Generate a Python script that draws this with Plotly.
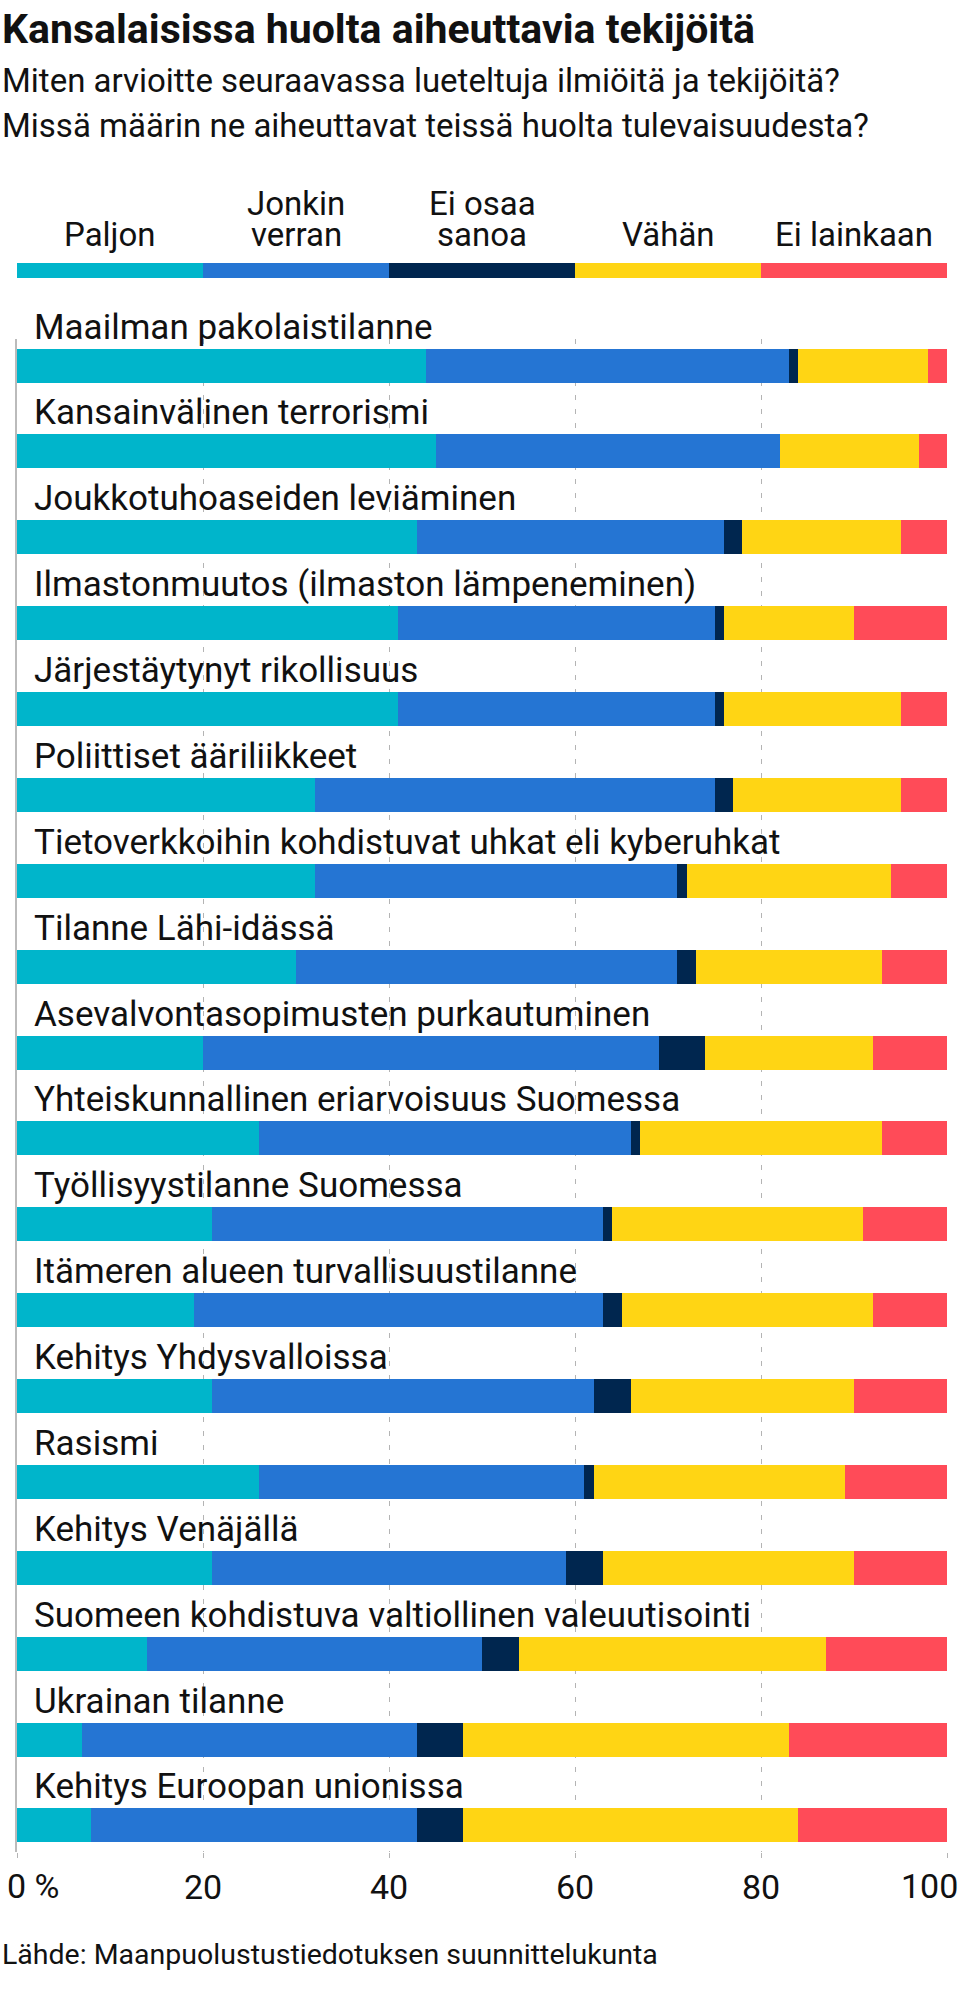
import plotly.graph_objects as go

# Survey data (% of respondents)
topics = [
    "Maailman pakolaistilanne",
    "Kansainvälinen terrorismi",
    "Joukkotuhoaseiden leviäminen",
    "Ilmastonmuutos (ilmaston lämpeneminen)",
    "Järjestäytynyt rikollisuus",
    "Poliittiset ääriliikkeet",
    "Tietoverkkoihin kohdistuvat uhkat eli kyberuhkat",
    "Tilanne Lähi-idässä",
    "Asevalvontasopimusten purkautuminen",
    "Yhteiskunnallinen eriarvoisuus Suomessa",
    "Työllisyystilanne Suomessa",
    "Itämeren alueen turvallisuustilanne",
    "Kehitys Yhdysvalloissa",
    "Rasismi",
    "Kehitys Venäjällä",
    "Suomeen kohdistuva valtiollinen valeuutisointi",
    "Ukrainan tilanne",
    "Kehitys Euroopan unionissa",
]
paljon = [44, 45, 43, 41, 41, 32, 32, 30, 20, 26, 21, 19, 21, 26, 21, 14, 7, 8]
jonkin_verran = [39, 37, 33, 34, 34, 43, 39, 41, 49, 40, 42, 44, 41, 35, 38, 36, 36, 35]
ei_osaa_sanoa = [1, 0, 2, 1, 1, 2, 1, 2, 5, 1, 1, 2, 4, 1, 4, 4, 5, 5]
vahan = [14, 15, 17, 14, 19, 18, 22, 20, 18, 26, 27, 27, 24, 27, 27, 33, 35, 36]
ei_lainkaan = [2, 3, 5, 10, 5, 5, 6, 7, 8, 7, 9, 8, 10, 11, 10, 13, 17, 16]

series_names = ["Paljon", "Jonkin\nverran", "Ei osaa\nsanoa", "Vähän", "Ei lainkaan"]
series_values = [paljon, jonkin_verran, ei_osaa_sanoa, vahan, ei_lainkaan]
colors = ["#00B5CB", "#2575D3", "#00264F", "#FFD514", "#FF4B58"]

x_ticks = [0, 20, 40, 60, 80, 100]

title = "Kansalaisissa huolta aiheuttavia tekijöitä"
subtitle = [
    "Miten arvioitte seuraavassa lueteltuja ilmiöitä ja tekijöitä?",
    "Missä määrin ne aiheuttavat teissä huolta tulevaisuudesta?",
]
source = "Lähde: Maanpuolustustiedotuksen suunnittelukunta"

# Page geometry (pixels)
W, H = 959, 1997
M_L, M_R, M_T, M_B = 17, 12, 339, 145
FONT = "Roboto, Arial, sans-serif"
TEXT = "#111111"
BAR_W = 0.396

fig = go.Figure()
for name, vals, col in zip(series_names, series_values, colors):
    fig.add_trace(go.Bar(
        y=topics, x=vals, name=name.replace("\n", " "), orientation="h",
        width=BAR_W, marker=dict(color=col, line=dict(width=0)),
        hovertemplate="%{y}: %{x} %<extra>" + name.replace("\n", " ") + "</extra>",
    ))


def page_note(text, px, py, size, bold=False, xanchor="left"):
    """Annotation placed by page pixel position (py = vertical middle of caps)."""
    if bold:
        text = "<b>" + text + "</b>"
    fig.add_annotation(
        text=text, xref="paper", yref="paper", x=0, y=1,
        xshift=px - M_L, yshift=M_T - py, xanchor=xanchor, yanchor="middle",
        showarrow=False, font=dict(family=FONT, size=size, color=TEXT),
    )


page_note(title, 0, 29, 41, bold=True)
page_note(subtitle[0], 0, 80, 33)
page_note(subtitle[1], 0, 125, 33)

# Legend: colour key across the full axis width with labels above
n = len(series_names)
seg = 100 / n
for i, (name, col) in enumerate(zip(series_names, colors)):
    fig.add_shape(type="rect", xref="x", yref="paper",
                  x0=i * seg, x1=(i + 1) * seg,
                  y0=1 + (M_T - 278) / (H - M_T - M_B),
                  y1=1 + (M_T - 263) / (H - M_T - M_B),
                  fillcolor=col, line=dict(width=0), layer="above")
    lines = name.split("\n")
    for j, line in enumerate(reversed(lines)):
        fig.add_annotation(
            text=line, xref="x", yref="paper", x=(i + 0.5) * seg, y=1,
            yshift=M_T - 234.5 + j * 31, xanchor="center", yanchor="middle",
            showarrow=False, font=dict(family=FONT, size=33, color=TEXT),
        )

# Topic labels above each bar
for t in topics:
    fig.add_annotation(
        text=t, xref="x", yref="y", x=0, y=t, xshift=15, yshift=38.5,
        xanchor="left", yanchor="middle", showarrow=False,
        font=dict(family=FONT, size=35, color=TEXT),
    )

# End tick labels (clamped to the page edges)
fig.add_annotation(text="0 %", xref="x", yref="paper", x=x_ticks[0], y=0,
                   xshift=-12, yshift=-33.5, xanchor="left", yanchor="middle",
                   showarrow=False, font=dict(family=FONT, size=34, color=TEXT))
fig.add_annotation(text=str(x_ticks[-1]), xref="x", yref="paper", x=x_ticks[-1], y=0,
                   xshift=13, yshift=-33.5, xanchor="right", yanchor="middle",
                   showarrow=False, font=dict(family=FONT, size=34, color=TEXT))

page_note(source, 0, 1954, 28.5)

fig.update_layout(
    width=W, height=H, barmode="stack", showlegend=False,
    margin=dict(l=M_L, r=M_R, t=M_T, b=M_B, pad=0),
    paper_bgcolor="white", plot_bgcolor="white",
    font=dict(family=FONT, size=34, color=TEXT),
    bargap=0,
)
fig.update_xaxes(
    range=[0, 100], tickvals=x_ticks,
    ticktext=[""] + [str(v) for v in x_ticks[1:-1]] + [""],
    showgrid=True, gridcolor="#b4b4b4", gridwidth=1, griddash="5px,9px",
    zeroline=False, showline=False,
    ticks="outside", ticklen=5, tickcolor="#b4b4b4", tickwidth=1,
    tickfont=dict(family=FONT, size=34, color=TEXT), fixedrange=True,
)
fig.update_yaxes(
    type="category", categoryorder="array", categoryarray=topics,
    range=[len(topics) - 1 + 0.31, -0.31], showticklabels=False,
    showgrid=False, zeroline=False, ticks="",
    showline=True, linecolor="#bbbbbb", linewidth=1.5, fixedrange=True,
)

# drop the default page margin so the figure sits flush in the window
fig.write_html(
    "out.html",
    config={"displayModeBar": False},
    post_script="document.body.style.margin='0';document.body.style.overflow='hidden';",
)
